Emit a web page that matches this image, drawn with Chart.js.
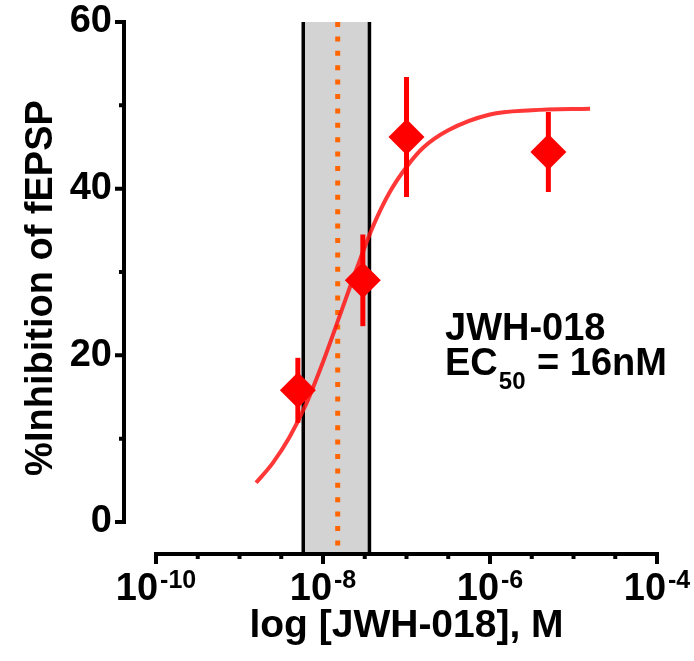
<!DOCTYPE html>
<html>
<head>
<meta charset="utf-8">
<script src="https://cdn.jsdelivr.net/npm/chart.js@4.4.1/dist/chart.umd.min.js"></script>
<style>
  body { margin: 0; background: #fff; }
</style>
</head>
<body>
<canvas id="doseChart" width="694" height="661"></canvas>
<script>
// measured points (concentration in M, % inhibition, SEM)
const concentrations = [5e-9, 3e-8, 1e-7, 5e-6];
const inhibition = [15.8, 29.0, 46.2, 44.4];
const sem = [3.9, 5.5, 7.2, 4.8];

// fitted curve
const curveConc = [1.58e-9, 2.51e-9, 3.98e-9, 6.31e-9, 1e-8, 1.58e-8, 2.51e-8, 3.98e-8, 6.31e-8, 1e-7, 1.58e-7, 3.16e-7, 1e-6, 3.16e-6, 1.58e-5];
const curveInhibition = [4.7, 7.1, 10.2, 14.2, 19.2, 24.7, 30.3, 35.5, 39.6, 42.6, 44.9, 47.0, 48.9, 49.4, 49.6];

// EC50 and its confidence band
const ec50 = 1.5e-8;
const ciLow = 5.8e-9;
const ciHigh = 3.6e-8;

const xTickValues = [1e-10, 1e-8, 1e-6, 1e-4];
const xTickBase = '10';
const xTickExponents = ['-10', '-8', '-6', '-4'];
const yTickValues = [0, 20, 40, 60];

const FONT = 'Arial, "Liberation Sans", sans-serif';
const RED = '#ff0000';
const Y_AXIS_GAP = 32; // y axis sits left of where the x axis starts

// grey band + dotted EC50 line behind the data
const bandPlugin = {
	id: 'ciBand',
	beforeDatasetsDraw(chart) {
		const {ctx, chartArea, scales: {x, y}} = chart;
		let left = x.getPixelForValue(ciLow);
		let right = x.getPixelForValue(ciHigh);
		let top = y.getPixelForValue(60);
		let bottom = chartArea.bottom;
		ctx.save();
		ctx.fillStyle = '#d3d3d3';
		ctx.fillRect(left, top, right - left, bottom - top);
		ctx.strokeStyle = '#000';
		ctx.lineWidth = 3.5;
		ctx.beginPath();
		ctx.moveTo(left, top); ctx.lineTo(left, bottom);
		ctx.moveTo(right, top); ctx.lineTo(right, bottom);
		ctx.stroke();

		let xe = x.getPixelForValue(ec50);
		ctx.strokeStyle = '#ff6600';
		ctx.lineWidth = 5;
		ctx.setLineDash([5, 9.4]);
		ctx.beginPath();
		ctx.moveTo(xe, top); ctx.lineTo(xe, bottom - 6);
		ctx.stroke();
		ctx.restore();
	}
};

// detached prism-style axes, x tick labels with superscripts, and the label text
const axesPlugin = {
	id: 'prismAxes',
	afterDraw(chart) {
		const {ctx, chartArea, scales: {x, y}} = chart;
		ctx.save();
		ctx.strokeStyle = '#000';
		ctx.lineWidth = 4;

		let ax = chartArea.left - Y_AXIS_GAP;
		ctx.beginPath();
		ctx.moveTo(ax, y.getPixelForValue(0) + 2);
		ctx.lineTo(ax, y.getPixelForValue(60) - 2);
		for (let v = 0; v <= 60; v += 10) {
			let py = y.getPixelForValue(v);
			let len = v % 20 === 0 ? 9 : 5;
			ctx.moveTo(ax + 2, py);
			ctx.lineTo(ax - len, py);
		}
		ctx.stroke();

		let ay = chartArea.bottom;
		ctx.beginPath();
		ctx.moveTo(x.getPixelForValue(1e-10) - 2, ay);
		ctx.lineTo(x.getPixelForValue(1e-4) + 2, ay);
		for (let e = -10; e <= -4; e += 0.5) {
			let px = x.getPixelForValue(Math.pow(10, e));
			let len = (e % 2 === 0) ? 10 : 5;
			ctx.moveTo(px, ay - 2);
			ctx.lineTo(px, ay + len);
		}
		ctx.stroke();

		ctx.fillStyle = '#000';
		ctx.textBaseline = 'alphabetic';
		ctx.textAlign = 'left';
		x.ticks.forEach((t, i) => {
			let px = x.getPixelForValue(t.value);
			ctx.font = 'bold 38px ' + FONT;
			let wb = ctx.measureText(xTickBase).width;
			ctx.font = 'bold 25px ' + FONT;
			let we = ctx.measureText(xTickExponents[i]).width;
			let start = px - (wb + we + 2) / 2;
			ctx.font = 'bold 38px ' + FONT;
			ctx.fillText(xTickBase, start, 600);
			ctx.font = 'bold 25px ' + FONT;
			ctx.fillText(xTickExponents[i], start + wb + 2, 588);
		});

		ctx.font = 'bold 38px ' + FONT;
		ctx.fillText('JWH-018', 445, 340);
		ctx.fillText('EC', 445, 375);
		let w1 = ctx.measureText('EC').width;
		ctx.font = 'bold 24px ' + FONT;
		ctx.fillText('50', 445 + w1 + 1, 389);
		let w2 = ctx.measureText('50').width;
		ctx.font = 'bold 38px ' + FONT;
		ctx.fillText(' = 16nM', 445 + w1 + w2 + 2, 375);
		ctx.restore();
	}
};

let datasets = [];
datasets.push({
	label: 'JWH-018',
	data: concentrations.map((c, i) => ({x: c, y: inhibition[i]})),
	showLine: false,
	pointStyle: 'rectRot',
	pointRadius: 18,
	pointBackgroundColor: RED,
	pointBorderWidth: 0
});
concentrations.forEach((c, i) => {
	datasets.push({
		label: 'sem' + i,
		data: [{x: c, y: inhibition[i] - sem[i]}, {x: c, y: inhibition[i] + sem[i]}],
		showLine: true,
		borderColor: RED,
		borderWidth: 5,
		pointRadius: 0
	});
});
datasets.push({
	label: 'fit',
	data: curveConc.map((c, i) => ({x: c, y: curveInhibition[i]})),
	showLine: true,
	borderColor: 'rgba(255, 20, 20, 0.85)',
	borderWidth: 4,
	pointRadius: 0,
	cubicInterpolationMode: 'monotone'
});

let chart = new Chart(document.getElementById('doseChart').getContext('2d'), {
	type: 'scatter',
	data: {datasets: datasets},
	plugins: [bandPlugin, axesPlugin],
	options: {
		responsive: false,
		animation: false,
		layout: {padding: {top: 22, right: 37, bottom: 0, left: 0}},
		plugins: {legend: {display: false}, tooltip: {enabled: false}},
		scales: {
			x: {
				type: 'logarithmic',
				min: 1e-10,
				max: 1e-4,
				grid: {display: false, drawTicks: false},
				border: {display: false},
				afterBuildTicks: s => { s.ticks = xTickValues.map(v => ({value: v})); },
				afterFit: s => { s.height = 107; s.paddingLeft = 0; s.paddingRight = 0; },
				ticks: {display: false, autoSkip: false},
				title: {
					display: true,
					text: 'log [JWH-018], M',
					color: '#000',
					font: {family: FONT, size: 39, weight: 'bold'},
					padding: {top: 0, bottom: 11}
				}
			},
			y: {
				min: -3.84,
				max: 60,
				grid: {display: false, drawTicks: false},
				border: {display: false},
				afterBuildTicks: s => { s.ticks = yTickValues.map(v => ({value: v})); },
				afterFit: s => { s.width = 156; s.paddingTop = 0; s.paddingBottom = 0; },
				ticks: {
					padding: 12 + Y_AXIS_GAP,
					color: '#000',
					font: {family: FONT, size: 38, weight: 'bold'},
					callback: v => String(v)
				},
				title: {
					display: true,
					text: '%Inhibition of fEPSP',
					color: '#000',
					font: {family: FONT, size: 38, weight: 'bold'},
					padding: {top: 19, bottom: 0}
				}
			}
		}
	}
});
</script>
</body>
</html>
